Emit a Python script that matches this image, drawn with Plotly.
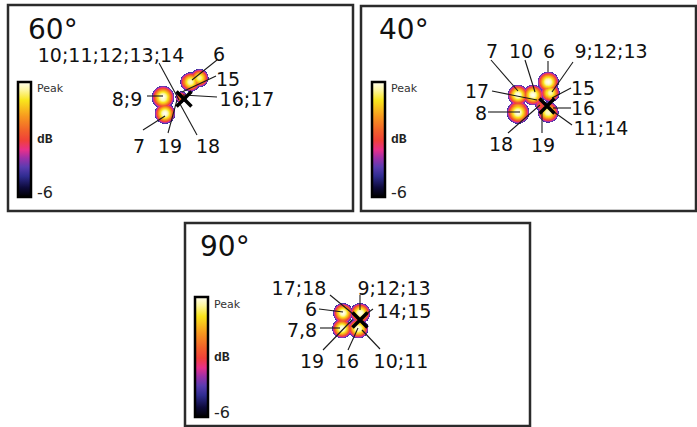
import numpy as np
import plotly.graph_objects as go

W, H = 697, 427

# ---------------- acoustic source maps (local coords, px; X mark at origin, y up) ---------------
# 60 degrees
p60_src_x = [-21, -19, 6, 15, -3]
p60_src_y = [2, -14, 17, 21, 2]
p60_src_lvl = [0.0, 0.0, -0.2, -0.4, -2.0]
p60_src_rad = [12.5, 11.5, 11, 10.5, 8]
p60_labels = ["10;11;12;13;14", "6", "15", "16;17", "8;9", "7", "19", "18"]
p60_lab_x = [-73, 35, 44, 63, -57, -45, -14, 24]
p60_lab_y = [45, 46, 21, 1, 1, -46, -46, -46]
p60_ln_x0 = [-25, 33, 32, 33, -37, -41, -16, 13]
p60_ln_y0 = [36, 39, 23, 2, 3, -31, -34, -36]
p60_ln_x1 = [-5, 8, -2, -1, -21, -19, -7, -4]
p60_ln_y1 = [-1, 19, 7, 4, 3, -17, -1, -5]

# 40 degrees
p40_src_x = [1, -29, -14, 3, -29, 1, -7]
p40_src_y = [24, 11, 11, 13, -6, -6, 1]
p40_src_lvl = [0.0, 0.0, 0.0, -0.3, 0.0, -0.2, -2.5]
p40_src_rad = [11.5, 11.5, 11.5, 10.5, 12.5, 11.5, 7.5]
p40_labels = ["7", "10", "6", "9;12;13", "17", "15", "8", "16", "11;14", "18", "19"]
p40_lab_x = [-55, -26, 2, 64, -70, 36, -66, 36, 54, -46, -4]
p40_lab_y = [56, 56, 56, 56, 16, 19, -6, -1, -21, -37, -38]
p40_ln_x0 = [-56, -22, 1, 26, -55, 24, -59, 24, 25, -39, -5]
p40_ln_y0 = [46, 46, 45, 44, 15, 18, -6, -2, -19, -27, -27]
p40_ln_x1 = [-29, -12, 1, 5, -10, 5, -27, 6, 0, -7, -5]
p40_ln_y1 = [15, 14, 34, 14, 6, 8, -6, -2, -1, 1, -4]

# 90 degrees
p90_src_x = [-17, 0, -18, -2]
p90_src_y = [7, 7, -8, -8]
p90_src_lvl = [0.0, 0.0, 0.0, 0.0]
p90_src_rad = [11, 11, 11, 11]
p90_labels = ["17;18", "9;12;13", "6", "14;15", "7,8", "19", "16", "10;11"]
p90_lab_x = [-61, 34, -49, 44, -58, -48, -13, 41]
p90_lab_y = [33, 33, 12, 10, -9, -40, -40, -40]
p90_ln_x0 = [-30, 0, -41, 13, -40, -37, -12, 20]
p90_ln_y0 = [25, 25, 11, 11, -8, -30, -30, -29]
p90_ln_x1 = [-2, 0, -17, 2, -20, -8, -2, 2]
p90_ln_y1 = [2, 10, 8, 3, -8, 0, -8, -10]

# colour bar labels: value (dB) and text
bar_tick_vals = [-0.35, -3.0, -5.75]
bar_tick_text = ["Peak", "dB", "-6"]

# ---------------- layout geometry (pixels in the page) ---------------
panels = [
    dict(name="60°", box=(8, 5, 353, 211), origin=(184, 99), cbar=(18, 82, 197), title=(26, 30),
         src=(p60_src_x, p60_src_y, p60_src_lvl, p60_src_rad),
         lab=(p60_labels, p60_lab_x, p60_lab_y),
         ln=(p60_ln_x0, p60_ln_y0, p60_ln_x1, p60_ln_y1)),
    dict(name="40°", box=(361, 6, 696, 211), origin=(547, 106), cbar=(372, 82, 197), title=(377, 30),
         src=(p40_src_x, p40_src_y, p40_src_lvl, p40_src_rad),
         lab=(p40_labels, p40_lab_x, p40_lab_y),
         ln=(p40_ln_x0, p40_ln_y0, p40_ln_x1, p40_ln_y1)),
    dict(name="90°", box=(185, 223, 530, 426), origin=(360, 320), cbar=(195, 297, 417), title=(198, 246),
         src=(p90_src_x, p90_src_y, p90_src_lvl, p90_src_rad),
         lab=(p90_labels, p90_lab_x, p90_lab_y),
         ln=(p90_ln_x0, p90_ln_y0, p90_ln_x1, p90_ln_y1)),
]

colorscale = [
    [0.00, "#000000"],
    [0.08, "#0d0a3a"],
    [0.18, "#2f2c90"],
    [0.26, "#5a3cb0"],
    [0.34, "#a030a8"],
    [0.41, "#e8308a"],
    [0.49, "#f0403a"],
    [0.58, "#f2622a"],
    [0.70, "#f7981f"],
    [0.84, "#f9e51c"],
    [0.93, "#fdf6a0"],
    [1.00, "#fffef0"],
]

LABEL_SHIFT = -3  # digits sit a little below the text-box centre


def source_map(sx, sy, lvl, rad, half=45, step=0.5, floor=-4.9):
    g = np.arange(-half, half + step, step)
    gx, gy = np.meshgrid(g, g)
    level = np.full(gx.shape, -99.0)
    for x, y, l, r in zip(sx, sy, lvl, rad):
        d = np.sqrt((gx - x) ** 2 + (gy - y) ** 2) / r
        level = np.maximum(level, l - 6.0 * d ** 2)
    level = np.where(level < floor, np.nan, level)
    return g, g, level


fig = go.Figure()
shapes, annotations = [], []
label_font = dict(family="DejaVu Sans", size=19, color="#111111")

for i, p in enumerate(panels, start=1):
    bx0, by0, bx1, by1 = p["box"]
    ox, oy = p["origin"]
    xa = "x" if i == 1 else f"x{i}"
    ya = "y" if i == 1 else f"y{i}"
    xkey = "xaxis" if i == 1 else f"xaxis{i}"
    ykey = "yaxis" if i == 1 else f"yaxis{i}"
    fig.update_layout({
        xkey: dict(domain=[bx0 / W, bx1 / W], range=[bx0 - ox, bx1 - ox], visible=False,
                   anchor=ya, fixedrange=True),
        ykey: dict(domain=[1 - by1 / H, 1 - by0 / H], range=[oy - by1, oy - by0], visible=False,
                   anchor=xa, fixedrange=True),
    })

    gx, gy, z = source_map(*p["src"])
    cx0, cy0, cy1 = p["cbar"]
    fig.add_trace(go.Heatmap(
        x=gx, y=gy, z=z, xaxis=xa, yaxis=ya, zmin=-6, zmax=0, colorscale=colorscale,
        hoverinfo="skip",
        colorbar=dict(
            x=cx0 / W, xanchor="left", y=1 - (cy0 + cy1) / 2 / H, yanchor="middle",
            len=cy1 - cy0, lenmode="pixels", thickness=13, thicknessmode="pixels",
            outlinewidth=2.5, outlinecolor="#000000", xpad=0, ypad=0,
            tickmode="array", tickvals=bar_tick_vals, ticks="",
            showticklabels=False,
        ),
    ))

    # colour bar captions, placed at the bar's own values
    span = cy1 - cy0
    for val, txt in zip(bar_tick_vals, bar_tick_text):
        ypx = cy0 + (-val / 6.0) * span
        if txt == "Peak":
            font = dict(family="DejaVu Sans", size=11, color="#333333")
        elif txt == "dB":
            font = dict(family="Liberation Mono", size=13, color="#222222", weight="bold")
        else:
            font = dict(family="DejaVu Sans", size=16, color="#222222")
        annotations.append(dict(text=txt, xref="paper", yref="paper", x=(cx0 + 18) / W,
                                y=1 - ypx / H, xanchor="left", yanchor="middle",
                                showarrow=False, font=font, borderpad=0))

    x0s, y0s, x1s, y1s = p["ln"]
    lx, ly = [], []
    for a, b, c, d in zip(x0s, y0s, x1s, y1s):
        lx += [a, c, None]
        ly += [b, d, None]
    fig.add_trace(go.Scatter(x=lx, y=ly, mode="lines", xaxis=xa, yaxis=ya,
                             line=dict(color="#1a1a1a", width=1.1), hoverinfo="skip",
                             showlegend=False))

    labels, lxs, lys = p["lab"]
    fig.add_trace(go.Scatter(x=lxs, y=[v + LABEL_SHIFT for v in lys], text=labels, mode="text",
                             xaxis=xa, yaxis=ya, textposition="middle center", textfont=label_font,
                             hoverinfo="skip", showlegend=False))

    fig.add_trace(go.Scatter(x=[0], y=[0], mode="markers", xaxis=xa, yaxis=ya,
                             marker=dict(symbol="x-thin", size=15,
                                         line=dict(color="#000000", width=3.5)),
                             hoverinfo="skip", showlegend=False))

    shapes.append(dict(type="rect", xref="paper", yref="paper",
                       x0=bx0 / W, x1=bx1 / W, y0=1 - by1 / H, y1=1 - by0 / H,
                       line=dict(color="#2b2b2b", width=2.5), layer="above"))
    tx, ty = p["title"]
    annotations.append(dict(text=p["name"], xref="paper", yref="paper", x=tx / W, y=1 - ty / H,
                            xanchor="left", yanchor="middle", showarrow=False,
                            font=dict(family="DejaVu Sans", size=28, color="#111111")))

fig.update_layout(
    width=W, height=H, margin=dict(l=0, r=0, t=0, b=0),
    paper_bgcolor="white", plot_bgcolor="rgba(0,0,0,0)",
    showlegend=False, shapes=shapes, annotations=annotations,
)

fig.write_html("out.html")
